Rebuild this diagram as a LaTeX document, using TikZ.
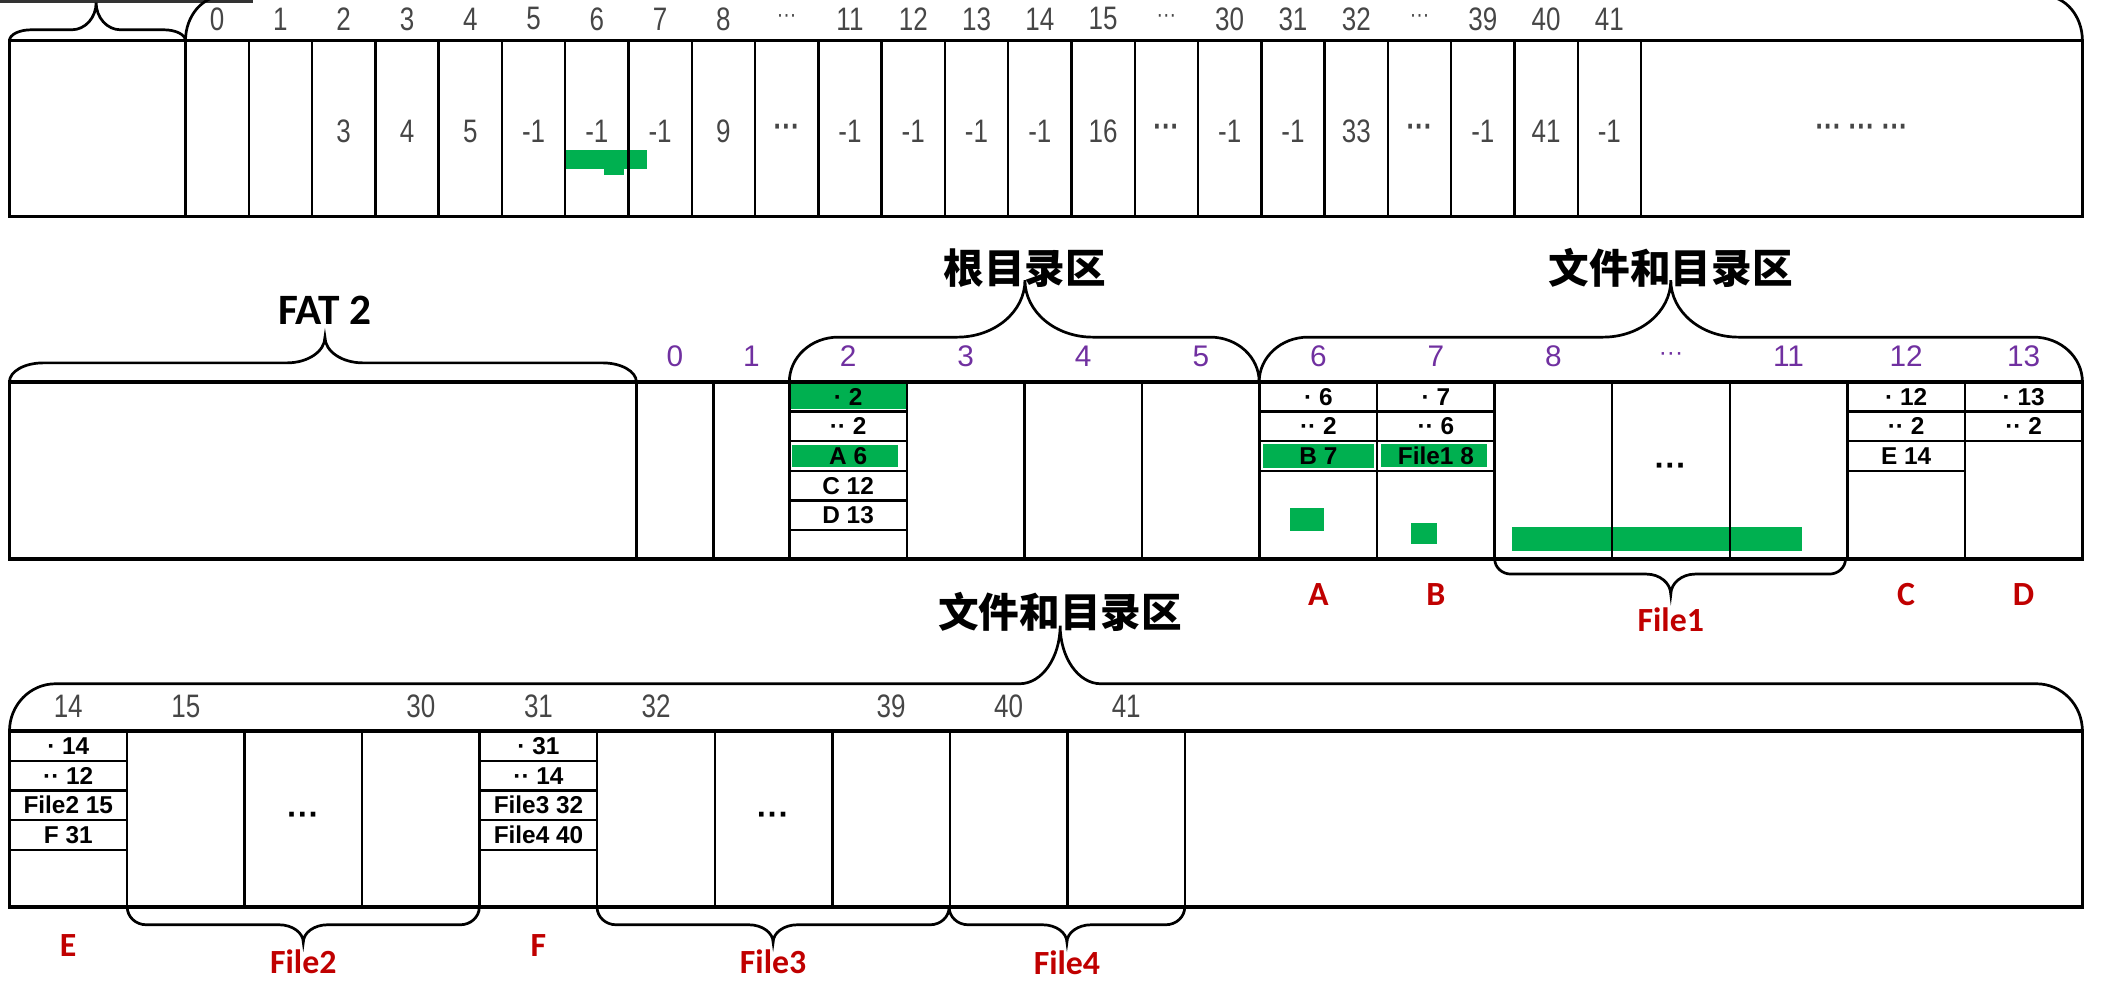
\documentclass[tikz,border=0pt]{standalone}
\usepackage{fontspec}
\setmainfont{Liberation Sans}
\newfontfamily\narrowfont[FakeStretch=0.8]{Liberation Sans}
\newfontfamily\tagfont{Carlito}
\newfontfamily\cjkfont{Noto Sans CJK SC}
\definecolor{lblpurple}{RGB}{112,48,160}
\definecolor{tagred}{RGB}{192,0,0}
\definecolor{mark}{RGB}{0,176,80}
\definecolor{numgray}{RGB}{70,70,70}
\newcommand{\hdd}{{\fontsize{9}{9}\selectfont ···}}
\newcommand{\bdd}{{\bfseries ···}}
% brace: x1, x2, tip x, base y, arm y, tip y, arm radius, tip radius
\newcommand{\region}[8]{%
  \draw[brc] (#1,#4) .. controls (#1,{#4+0.552*(#5-#4)}) and ({#1+0.448*#7},#5) .. ({#1+#7},#5)
    -- ({#3-#8},#5) .. controls ({#3-0.448*#8},#5) and (#3,{#6+0.552*(#5-#6)}) .. (#3,#6)
    .. controls (#3,{#6+0.552*(#5-#6)}) and ({#3+0.448*#8},#5) .. ({#3+#8},#5)
    -- ({#2-#7},#5) .. controls ({#2-0.448*#7},#5) and (#2,{#4+0.552*(#5-#4)}) .. (#2,#4);}

\begin{document}
\begin{tikzpicture}[x=0.5pt,y=-0.5pt,
    rowframe/.style={line width=1.3pt},
    cellline/.style={line width=0.9pt},
    brc/.style={line width=1pt},
    hl/.style={fill=mark},
    hdr/.style={font=\narrowfont\fontsize{12}{12}\selectfont,text=numgray,inner sep=0pt},
    num/.style={font=\fontsize{11}{11}\selectfont,text=lblpurple,inner sep=0pt},
    ent/.style={font=\bfseries\fontsize{9}{9}\selectfont,inner sep=0pt},
    tag/.style={font=\tagfont\bfseries\fontsize{12.5}{12.5}\selectfont,text=tagred,inner sep=0pt},
    area/.style={font=\cjkfont\bfseries\fontsize{15}{15}\selectfont,inner sep=0pt}]
\useasboundingbox (0,0) rectangle (1568,724.5);

% green marks
\fill[hl] (417,111) rectangle (478,125);
\fill[hl] (446,124) rectangle (461,129);
\fill[hl] (584,283) rectangle (670,302);
\fill[hl] (585,329) rectangle (663,345);
\fill[hl] (933,328) rectangle (1015,346);
\fill[hl] (1020,328) rectangle (1098,345);
\fill[hl] (953,375) rectangle (978,392);
\fill[hl] (1042,386) rectangle (1061,402);
\fill[hl] (1117,389) rectangle (1331,407);

% FAT 1 (top row)
\fill[black!80] (0,0) rectangle (187,2.5);
\region{7}{137}{71}{30}{22}{2}{16}{18}
\begin{scope}
  \clip (0,0) rectangle (1568,724.5);
  \region{137}{1538}{837}{30}{-3}{-40}{28}{40}
\end{scope}
\foreach \i in {0,...,23}
  \draw[cellline] ({137+46.74*\i},30) -- ({137+46.74*\i},160);
\draw[rowframe] (7,30) rectangle (1538,160);
\foreach \lab/\val [count=\i from 0] in {0/{},1/{},2/3,3/4,4/5,5/-1,6/-1,7/-1,8/9,\hdd/\bdd,11/-1,12/-1,13/-1,14/-1,15/16,\hdd/\bdd,30/-1,31/-1,32/33,\hdd/\bdd,39/-1,40/41,41/-1}{
  \node[hdr] (fa\i) at ({137+46.74*(\i+0.5)},14) {\lab};
  \node[hdr] (fv\i) at ({137+46.74*(\i+0.5)},97) {\val};
}
\node[hdr] (frest) at (1375,97) {\bdd\ \bdd\ \bdd};

% FAT 2, root and data area
\node[font=\tagfont\bfseries\fontsize{16}{16}\selectfont,inner sep=0pt] (fat2) at (240,229) {FAT 2};
\region{7}{470}{240}{282}{268}{249}{25}{28}
\node[area] (root) at (757,198) {根目录区};
\region{583}{930}{757}{282}{249}{207}{36}{50}
\node[area] (data1) at (1234,198) {文件和目录区};
\region{930}{1538}{1234}{282}{249}{207}{36}{50}
\foreach \x in {470,527}
  \draw[cellline] (\x,282) -- (\x,413);
\foreach \k in {0,...,10}
  \draw[cellline] ({583+86.82*\k},282) -- ({583+86.82*\k},413);
\draw[rowframe] (7,282) rectangle (1538,413);
\node[num] (ca) at (498.5,263) {0};
\node[num] (cb) at (555,263) {1};
\foreach \lab [count=\k from 0] in {2,3,4,5,6,7,8,\hdd,11,12,13}
  \node[num] (c\k) at ({583+86.82*(\k+0.5)},263) {\lab};
\node[font=\bfseries\fontsize{12}{12}\selectfont,inner sep=0pt] (dots2) at (1234,347) {···};
\region{1104}{1363}{1234}{413}{424}{439}{12}{18}
\foreach \t/\x in {A/973.7,B/1060.5,C/1407.8,D/1494.6}
  \node[tag] (t\t) at (\x,439) {\t};
\node[tag] (file1) at (1234,458) {File1};

% data area, continued
\node[area] (data2) at (783,452) {文件和目录区};
\region{7}{1538}{783}{540}{505}{462}{34}{30}
\foreach \k in {1,...,10}
  \draw[cellline] ({7+86.82*\k},540) -- ({7+86.82*\k},670);
\draw[rowframe] (7,540) rectangle (1538,670);
\foreach \lab/\k in {14/0,15/1,30/3,31/4,32/5,39/7,40/8,41/9}
  \node[hdr] (d\lab) at ({7+86.82*(\k+0.5)},522) {\lab};
\node[font=\bfseries\fontsize{12}{12}\selectfont,inner sep=0pt] (dots3a) at (224,605) {···};
\node[font=\bfseries\fontsize{12}{12}\selectfont,inner sep=0pt] (dots3b) at (571,605) {···};
\region{94}{354}{224}{670}{683}{696}{14}{18}
\region{441}{701}{571}{670}{683}{696}{14}{18}
\region{701}{875}{788}{670}{683}{696}{14}{18}
\node[tag] (tE) at (50.4,698) {E};
\node[tag] (tF) at (397.7,698) {F};
\node[tag] (file2) at (224,710) {File2};
\node[tag] (file3) at (571,710) {File3};
\node[tag] (file4) at (788,711) {File4};

% directory entries
\foreach \x/\y/\list [count=\c] in {583/282/{· 2,·· 2,A 6,C 12,D 13},
    930.3/282/{· 6,·· 2,B 7}, 1017.1/282/{· 7,·· 6,File1 8},
    1364.4/282/{· 12,·· 2,E 14}, 1451.2/282/{· 13,·· 2},
    7/540/{· 14,·· 12,File2 15,F 31}, 354.3/540/{· 31,·· 14,File3 32,File4 40}}{
  \foreach \t [count=\j] in \list {
    \node[ent] (e\c-\j) at ({\x+43.41},{\y+21.9*(\j-0.5)}) {\t};
    \draw[cellline] (\x,{\y+21.9*\j}) -- ({\x+86.82},{\y+21.9*\j});
  }
}
\end{tikzpicture}
\end{document}
